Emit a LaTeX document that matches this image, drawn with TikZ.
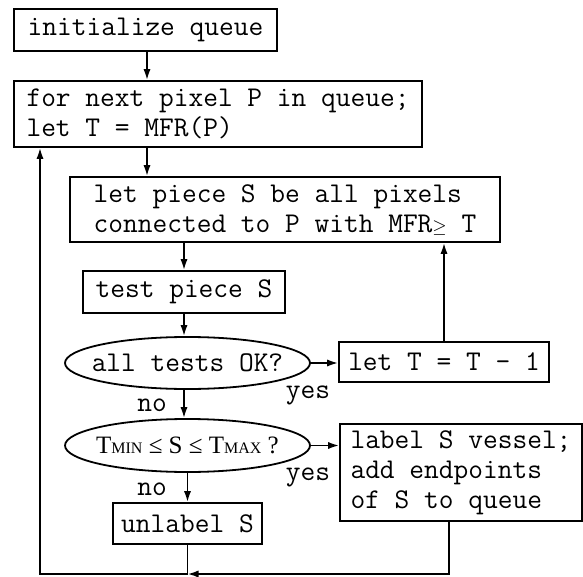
\documentclass[tikz,border=0pt]{standalone}
\usepackage{fontspec}
\newfontfamily\rangefont{Liberation Serif}
\usetikzlibrary{arrows.meta, positioning, calc, shapes.geometric}

\begin{document}
\begin{tikzpicture}[
  x=0.5pt, y=-0.5pt,
  line width=0.9pt,
  font=\ttfamily\fontsize{14.3}{15}\selectfont,
  stepbox/.style={draw, rectangle, inner xsep=4pt, inner ysep=2pt, align=left},
  decide/.style={draw, ellipse, inner sep=0pt, minimum width=122.5pt, minimum height=26pt},
  arr/.style={-{Latex[length=5.5pt, width=3.6pt]}},
  tag/.style={inner sep=0pt},
]
\useasboundingbox (0,0) rectangle (583,577);

% main column
\node[stepbox, minimum width=131.5pt, minimum height=21pt, align=center] (init) at (145.5,30) {initialize queue};
\node[stepbox, minimum width=204pt, minimum height=33pt] (fornext) at (218,114) {for next pixel P in queue;\\let T = MFR(P)};
\node[stepbox, minimum width=215pt, minimum height=32.5pt] (piece) at (285,209.5) {let piece S be all pixels\\connected to P with MFR{\small$\geq$} T};
\node[stepbox, minimum width=101pt, minimum height=21pt, align=center] (test) at (184,292) {test piece S};
\node[decide] (ok) at (187.5,363) {\makebox[0pt]{all tests OK?}};
\node[decide, minimum height=26.5pt] (range) at (187.5,445.5)
  {\makebox[0pt]{\rangefont\fontsize{12.5}{12.5}\selectfont T{\fontsize{8}{9}\selectfont MIN} ≤ S ≤ T{\fontsize{8}{9}\selectfont MAX} ?}};
\node[stepbox, minimum width=74.5pt, minimum height=20.5pt, align=center] (unlabel) at (187.5,523.5) {unlabel S};

% right column
\node[stepbox, minimum width=105pt, minimum height=20pt, align=center] (lett) at (444,362) {let T = T - 1};
\node[stepbox, minimum width=121pt, minimum height=48.5pt] (vessel) at (461,472.5) {label S vessel;\\add endpoints\\of S to queue};

% branch labels
\node[tag] (yes1) at (308,395) {yes};
\node[tag] (yes2) at (308,477) {yes};
\node[tag] (no1) at (152,405) {no};
\node[tag] (no2) at (152,489) {no};

% forward arrows
\draw[arr] (init.south -| 147,0) -- (fornext.north -| 147,0);
\draw[arr] (fornext.south -| 147,0) -- (piece.north -| 147,0);
\draw[arr] (test.north |- piece.south) -- (test.north);
\draw[arr] (test.south) -- (test.south |- ok.north);
\draw[arr] (ok.south -| test.south) -- (range.north -| test.south);
\draw[arr] (range.south -| unlabel.north) -- (unlabel.north);
\draw[arr] (ok.east) -- (ok.east -| lett.west);
\draw[arr] (range.east) -- (range.east -| vessel.west);
\draw[arr] (lett.north) -- (lett.north |- piece.south);

% loop back to queue
\coordinate (join) at (unlabel.south |- 0,574);
\coordinate (corner) at (40,574);
\draw[arr] ($(vessel.south)+(-12,0)$) |- (join);
\draw[arr] (unlabel.south) -- (join) -- (corner) -- (corner |- fornext.south);
\end{tikzpicture}
\end{document}
